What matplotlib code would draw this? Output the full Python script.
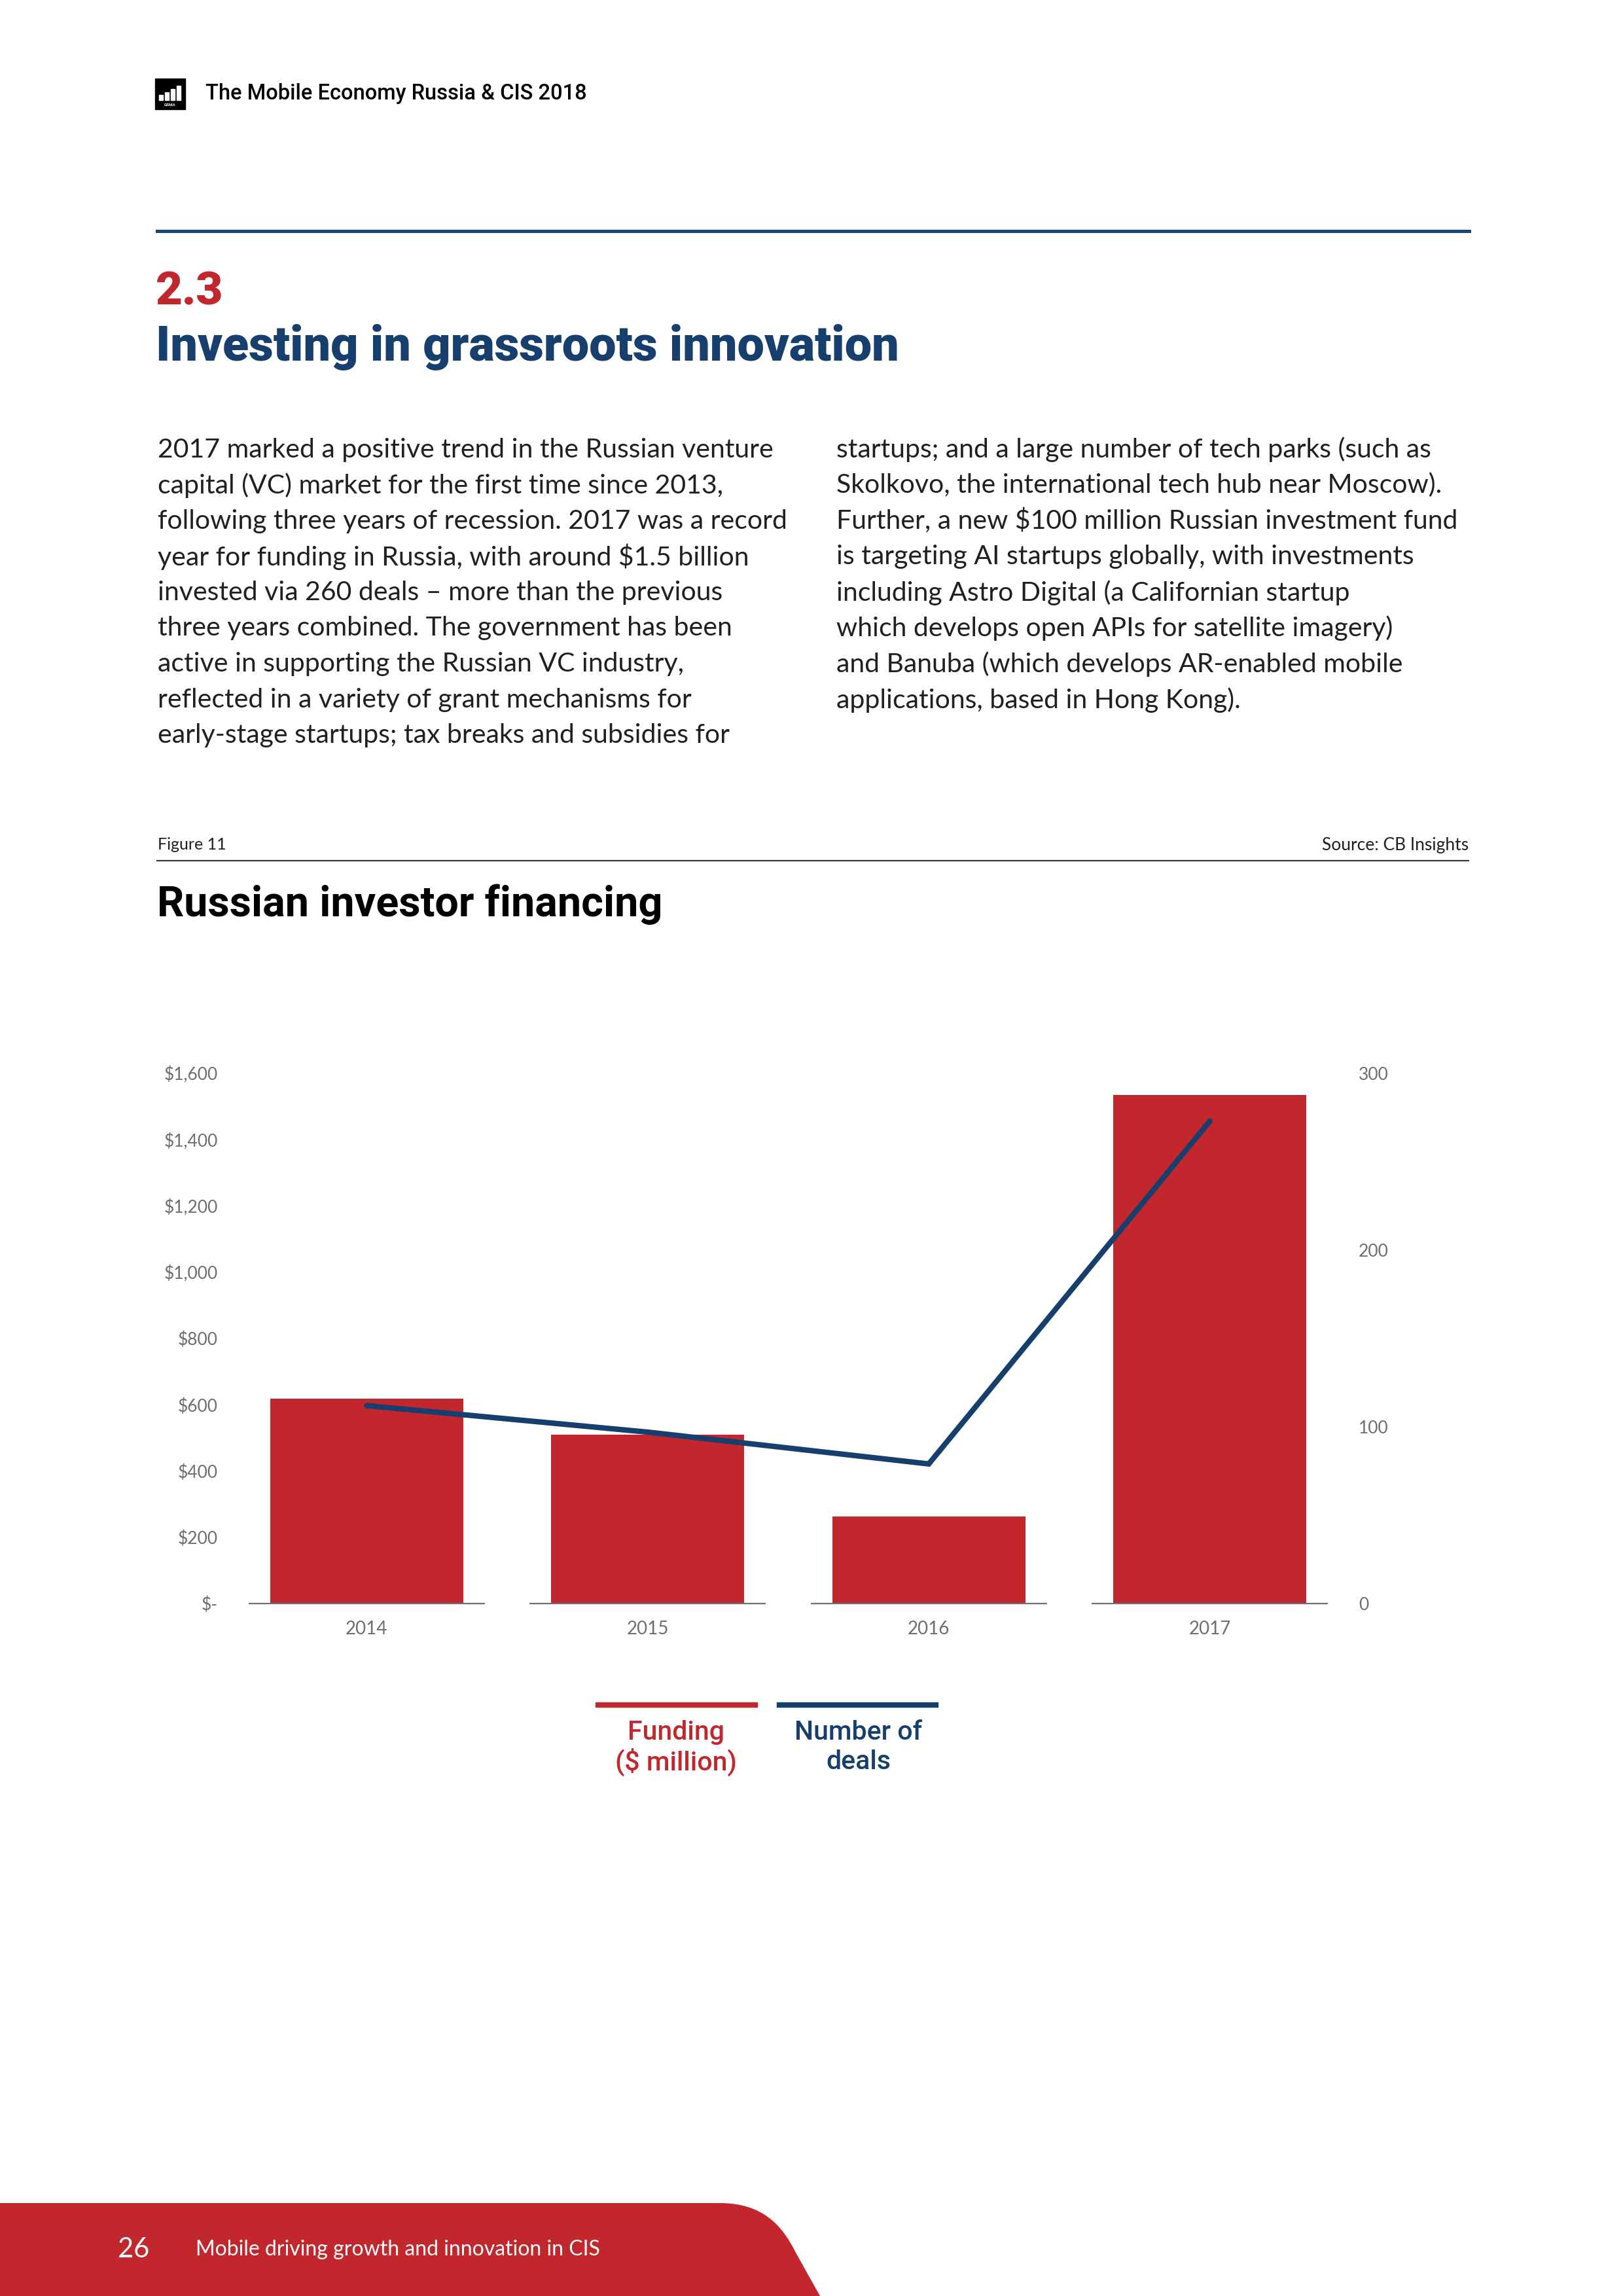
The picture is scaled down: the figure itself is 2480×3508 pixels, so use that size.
import matplotlib
matplotlib.use("Agg")
import matplotlib.pyplot as plt
from matplotlib.patches import Rectangle, PathPatch
from matplotlib.path import Path
from matplotlib.lines import Line2D
import numpy as np

W, H = 2480, 3508
RED = "#c1272d"
NAVY = "#173f6d"
GREY = "#6d6e71"
BODY = "#231f20"

# chart data
years = ["2014", "2015", "2016", "2017"]
funding = [618, 509, 263, 1535]       # $ million
deals = [112, 97, 79, 273]            # number of deals

funding_ticks = [0, 200, 400, 600, 800, 1000, 1200, 1400, 1600]
funding_labels = ["$-", "$200", "$400", "$600", "$800", "$1,000",
                  "$1,200", "$1,400", "$1,600"]
deal_ticks = [0, 100, 200, 300]
deal_labels = ["0", "100", "200", "300"]

left_col = [
    "2017 marked a positive trend in the Russian venture",
    "capital (VC) market for the first time since 2013,",
    "following three years of recession. 2017 was a record",
    "year for funding in Russia, with around $1.5 billion",
    "invested via 260 deals \u2013 more than the previous",
    "three years combined. The government has been",
    "active in supporting the Russian VC industry,",
    "reflected in a variety of grant mechanisms for",
    "early-stage startups; tax breaks and subsidies for",
]
right_col = [
    "startups; and a large number of tech parks (such as",
    "Skolkovo, the international tech hub near Moscow).",
    "Further, a new $100 million Russian investment fund",
    "is targeting AI startups globally, with investments",
    "including Astro Digital (a Californian startup",
    "which develops open APIs for satellite imagery)",
    "and Banuba (which develops AR-enabled mobile",
    "applications, based in Hong Kong).",
]

BODY_FONT = "Lato"
HEAD_FONT = "Roboto"


def fx(x):
    return x / W


def fy(y):
    return 1 - y / H


fig = plt.figure(figsize=(24.8, 35.08), dpi=100)

# header: logo + running title
fig.add_artist(Rectangle((fx(237), fy(167)), 46 / W, 47 / H,
                         transform=fig.transFigure, color="black"))
for i, h in enumerate([8, 12, 17, 22]):
    fig.add_artist(Rectangle((fx(243 + i * 9), fy(153)), 6 / W, h / H,
                             transform=fig.transFigure, color="white"))
fig.text(fx(260), fy(160), "GSMA", color="white", fontsize=4.5,
         ha="center", va="center", family=HEAD_FONT, weight="bold")
fig.text(fx(314), fy(143), "The Mobile Economy Russia & CIS 2018",
         fontsize=23.5, family=HEAD_FONT, weight="medium", color="black",
         va="center", ha="left")

# blue rule
fig.add_artist(Line2D([fx(240), fx(2245)], [fy(353), fy(353)],
                      transform=fig.transFigure, color="#1b4674", lw=3.6))

# section title
fig.text(fx(238), fy(446), "2.3", fontsize=51, family=HEAD_FONT,
         weight="black", color=RED, va="center", ha="left")
fig.text(fx(238), fy(530), "Investing in grassroots innovation",
         fontsize=53, family=HEAD_FONT, weight="black", color=NAVY,
         va="center", ha="left")

# body text, two columns
for i, line in enumerate(left_col):
    fig.text(fx(241), fy(687 + i * 54.6), line, fontsize=29.5,
             family=BODY_FONT, weight="normal", color=BODY, va="center")
for i, line in enumerate(right_col):
    fig.text(fx(1278), fy(687 + i * 54.6), line, fontsize=29.5,
             family=BODY_FONT, weight="normal", color=BODY, va="center")

# figure caption row
fig.text(fx(241), fy(1291), "Figure 11", fontsize=18, family=BODY_FONT,
         weight="normal", color=BODY, va="center")
fig.text(fx(2244), fy(1291), "Source: CB Insights", fontsize=19,
         family=BODY_FONT, weight="normal", color=BODY, va="center",
         ha="right")
fig.add_artist(Line2D([fx(240), fx(2244)], [fy(1315), fy(1315)],
                      transform=fig.transFigure, color="#3a3a3a", lw=1.6))
fig.text(fx(240), fy(1382), "Russian investor financing", fontsize=46.5,
         family=HEAD_FONT, weight="bold", color="black", va="center")

# chart
x = np.arange(len(years))
ax = fig.add_axes([fx(380), fy(2450), (2029 - 380) / W, (2450 - 1640) / H])
ax.bar(x, funding, width=0.686, color=RED, zorder=2)
ax.set_xlim(-0.42, len(years) - 0.58)
ax.set_ylim(0, 1600)
ax.set_yticks(funding_ticks, funding_labels)
ax.set_xticks(x, years)
for s in ax.spines.values():
    s.set_visible(False)
ax.tick_params(axis="y", length=0, pad=34, labelsize=19, labelcolor=GREY)
ax.tick_params(axis="x", length=0, pad=19, labelsize=20, labelcolor=GREY)
for lab in ax.get_xticklabels() + ax.get_yticklabels():
    lab.set_family(BODY_FONT)
for xi in x:
    ax.hlines(0, xi - 0.42, xi + 0.42, color=GREY, lw=1.6, zorder=3,
              clip_on=False)

ax2 = ax.twinx()
ax2.plot(x, deals, color=NAVY, lw=6, solid_capstyle="round",
         solid_joinstyle="miter", zorder=4)
ax2.set_ylim(0, 300)
ax2.set_yticks(deal_ticks, deal_labels)
for s in ax2.spines.values():
    s.set_visible(False)
ax2.tick_params(axis="y", length=0, pad=34, labelsize=19, labelcolor=GREY)
for lab in ax2.get_yticklabels():
    lab.set_family(BODY_FONT)

# legend
fig.add_artist(Line2D([fx(914), fx(1154)], [fy(2605), fy(2605)],
                      transform=fig.transFigure, color=RED, lw=6))
fig.add_artist(Line2D([fx(1191), fx(1430)], [fy(2605), fy(2605)],
                      transform=fig.transFigure, color=NAVY, lw=6))
legend_rows = [("Funding", "($ million)", 1033, RED),
               ("Number of", "deals", 1312, NAVY)]
for top, bottom, cx, col in legend_rows:
    fig.text(fx(cx), fy(2647), top, fontsize=29.5, family=HEAD_FONT,
             weight="medium", color=col, ha="center", va="center")
    fig.text(fx(cx), fy(2692), bottom, fontsize=29.5, family=HEAD_FONT,
             weight="medium", color=col, ha="center", va="center")

# footer band
verts = [(0, 3508), (0, 3366), (1100, 3366), (1165, 3366), (1195, 3400),
         (1215, 3440), (1253, 3508), (0, 3508)]
codes = [Path.MOVETO, Path.LINETO, Path.LINETO, Path.CURVE4, Path.CURVE4,
         Path.CURVE4, Path.LINETO, Path.CLOSEPOLY]
footer = Path([(fx(a), fy(b)) for a, b in verts], codes)
fig.add_artist(PathPatch(footer, transform=fig.transFigure, color=RED, lw=0))
fig.text(fx(204), fy(3437), "26", fontsize=30, family=BODY_FONT,
         weight="normal", color="white", ha="center", va="center")
fig.text(fx(299), fy(3437), "Mobile driving growth and innovation in CIS",
         fontsize=23, family=BODY_FONT, weight="normal", color="white",
         ha="left", va="center")

fig.savefig("out.png", dpi=100)
